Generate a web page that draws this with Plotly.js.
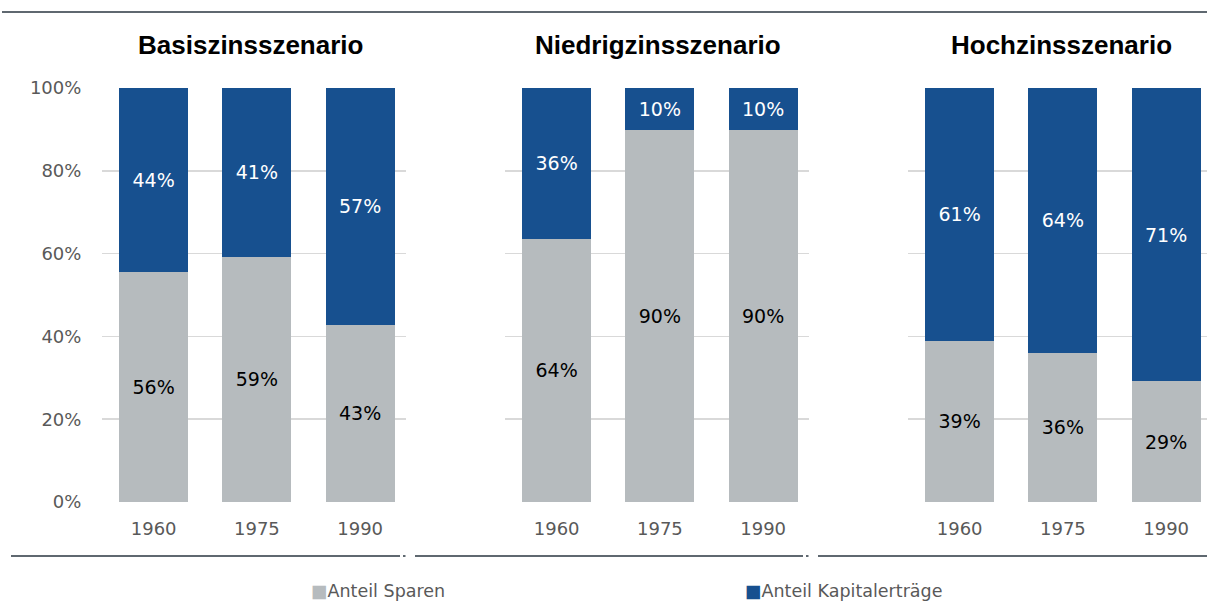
<!DOCTYPE html>
<html>
<head>
<meta charset="utf-8">
<script src="https://cdn.plot.ly/plotly-3.0.1.min.js"></script>
<style>html,body{margin:0;padding:0;background:#fff;}#chart{width:1207px;height:602px;}</style>
</head>
<body>
<div id="chart"></div>
<script>
const years = ['1960', '1975', '1990'];
const scenarios = ['Basiszinsszenario', 'Niedrigzinsszenario', 'Hochzinsszenario'];
const sparenBasis = [55.6, 59.2, 42.8];
const kapitalBasis = [44.4, 40.8, 57.2];
const sparenNiedrig = [63.6, 89.9, 89.9];
const kapitalNiedrig = [36.4, 10.1, 10.1];
const sparenHoch = [38.9, 36.0, 29.2];
const kapitalHoch = [61.1, 64.0, 70.8];
const seriesNames = ['Anteil Sparen', 'Anteil Kapitalerträge'];
const yTicks = [0, 20, 40, 60, 80, 100];
const yTickText = ['0%', '20%', '40%', '60%', '80%', '100%'];

const W = 1207, H = 602;
const GREY = '#B6BBBE', BLUE = '#17508F', TXT = '#595959';
const FONT = 'DejaVu Sans, Verdana, sans-serif';
const TFONT = 'Liberation Sans, Arial, sans-serif';

const sparen = [sparenBasis, sparenNiedrig, sparenHoch];
const kapital = [kapitalBasis, kapitalNiedrig, kapitalHoch];

const px = [[102, 406], [505, 809], [908, 1207]];
const step = 103.25;
const yBot = 502, yTop = 88;

const traces = [];
const layout = {
  width: W, height: H,
  margin: {l: 0, r: 0, t: 0, b: 0, autoexpand: false},
  paper_bgcolor: '#fff', plot_bgcolor: '#fff',
  barmode: 'stack',
  bargap: 0.332,
  showlegend: false,
  font: {family: FONT, color: TXT},
  annotations: [],
  shapes: []
};

for (let p = 0; p < 3; p++) {
  const sfx = p === 0 ? '' : String(p + 1);
  const xa = 'x' + sfx, ya = 'y' + sfx;
  traces.push({
    type: 'bar', x: years, y: sparen[p], name: seriesNames[0],
    xaxis: xa, yaxis: ya, marker: {color: GREY, line: {width: 0}},
    texttemplate: '%{y:.0f}%', textposition: 'inside', insidetextanchor: 'middle',
    textfont: {family: FONT, size: 19, color: '#000'},
    textangle: 0, constraintext: 'none', hoverinfo: 'skip'
  });
  traces.push({
    type: 'bar', x: years, y: kapital[p], name: seriesNames[1],
    xaxis: xa, yaxis: ya, marker: {color: BLUE, line: {width: 0}},
    texttemplate: '%{y:.0f}%', textposition: 'inside', insidetextanchor: 'middle',
    textfont: {family: FONT, size: 19, color: '#fff'},
    textangle: 0, constraintext: 'none', hoverinfo: 'skip'
  });
  const d0 = px[p][0], d1 = px[p][1];
  layout['xaxis' + sfx] = {
    domain: [d0 / W, d1 / W], anchor: ya, type: 'category',
    range: [-0.5, -0.5 + (d1 - d0) / step],
    showgrid: false, zeroline: false, showline: false,
    ticks: 'outside', ticklen: 10, tickcolor: 'rgba(0,0,0,0)',
    tickfont: {family: FONT, size: 18, color: TXT}, fixedrange: true, automargin: false
  };
  layout['yaxis' + sfx] = {
    domain: [(H - yBot) / H, (H - yTop) / H], anchor: xa,
    range: [0, 100], tickvals: yTicks, ticktext: yTickText,
    showticklabels: p === 0,
    showgrid: true, gridcolor: '#D9D9D9', gridwidth: 1.5,
    zeroline: false, showline: false,
    ticks: p === 0 ? 'outside' : '', ticklen: 16, tickcolor: 'rgba(0,0,0,0)',
    tickfont: {family: FONT, size: 18, color: TXT}, fixedrange: true, automargin: false
  };
  layout.annotations.push({
    xref: 'paper', yref: 'paper', x: [250, 658, 1061][p] / W, y: (H - 45) / H,
    xanchor: 'center', yanchor: 'middle', showarrow: false,
    text: '<b>' + scenarios[p] + '</b>',
    font: {family: TFONT, size: 26, color: '#000'}
  });
}

const legendColors = [GREY, BLUE];
const legendX = [309, 743];
seriesNames.forEach((n, i) => {
  layout.annotations.push({
    xref: 'paper', yref: 'paper', x: legendX[i] / W, y: (H - 591) / H,
    xanchor: 'left', yanchor: 'middle', showarrow: false,
    text: '<span style="color:' + legendColors[i] + '">■</span>' + n,
    font: {family: FONT, size: 17.5, color: TXT}
  });
});

const LC = '#5F6870';
const yl = (H - 556) / H;
layout.shapes.push({type: 'line', xref: 'paper', yref: 'paper', x0: 2 / W, x1: 1, y0: (H - 12) / H, y1: (H - 12) / H, line: {color: LC, width: 2}});
[[11, 400], [403, 405.5], [415, 803], [806, 808.5], [818, 1207]].forEach(s => {
  layout.shapes.push({type: 'line', xref: 'paper', yref: 'paper', x0: s[0] / W, x1: s[1] / W, y0: yl, y1: yl, line: {color: LC, width: 2}});
});

Plotly.newPlot('chart', traces, layout, {displayModeBar: false, staticPlot: true});
</script>
</body>
</html>
